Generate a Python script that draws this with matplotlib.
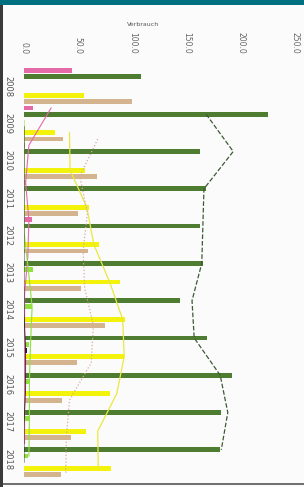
import matplotlib
matplotlib.use("Agg")
import matplotlib.pyplot as plt
import numpy as np
from matplotlib.patches import Rectangle
from matplotlib.lines import Line2D

years = ["2008", "2009", "2010", "2011", "2012", "2013", "2014", "2015", "2016", "2017", "2018"]
pink = [44, 8, 1, 2, 7, 0, 0, 0, 0, 0, 0]
green = [108, 225, 162, 168, 162, 165, 144, 169, 192, 182, 181]
lightgreen = [0, 0, 0, 0, 0, 8, 7, 5, 5, 5, 4]
black = [0, 0, 0, 0, 0, 0, 0, 3, 0, 0, 0]
yellow = [55, 29, 56, 60, 69, 89, 93, 92, 79, 57, 80]
tan = [100, 36, 67, 50, 59, 53, 75, 49, 35, 43, 34]

# two-year average lines (first year has no point)
pink_line = [None, 25, 4.5, 1.5, 4.5, 3.5, 0.5, 0.5, 0.5, 0.5, 0.5]
green_line = [None, 168, 193, 166, 165, 164, 155, 157, 181, 188, 182]
lightgreen_line = [None, 0, 0, 0, 0, 4, 7.5, 6, 5, 5, 4.5]
black_line = [None, 0, 0, 0, 0, 0, 0, 1.5, 1.5, 0, 0]
yellow_line = [None, 42, 42.5, 58, 64.5, 79, 91, 92.5, 85.5, 68, 68.5]
tan_line = [None, 68, 51.5, 58.5, 54.5, 56, 64, 62, 42, 39, 38.5]

ticks = [0, 50, 100, 150, 200, 250]
tick_labels = ["0.0", "50.0", "100.0", "150.0", "200.0", "250.0"]
axis_title = "Verbrauch"

W, H = 304, 487
fig = plt.figure(figsize=(W / 100, H / 100), dpi=100)
fig.patch.set_facecolor("#fbfbfb")
ax = fig.add_axes([24 / W, (H - 483) / H, 271 / W, (483 - 62) / H])
ax.set_facecolor("#fbfbfb")

series = [
    (pink, pink_line, "#e46aaa", "-", 0.8),
    (green, green_line, "#4e7d32", "--", 0.9),
    (lightgreen, lightgreen_line, "#8fe040", "-", 0.8),
    (black, black_line, "#222222", "-", 0.6),
    (yellow, yellow_line, "#f2f20a", "-", 0.9),
    (tan, tan_line, "#d4b48e", ":", 0.9),
]
line_colors = ["#e46aaa", "#3c5a34", "#8fe040", "#222222", "#e8e840", "#d9a9a0"]

n = len(series)
w = 1.0 / n
idx = np.arange(len(years))
for k, (vals, lvals, col, ls, lw) in enumerate(series):
    off = (k - (n - 1) / 2) * w
    ax.barh(idx + off, vals, height=w * 0.78, color=col, zorder=2)
for k, (vals, lvals, col, ls, lw) in enumerate(series):
    off = (k - (n - 1) / 2) * w
    ys = [i + off for i, v in enumerate(lvals) if v is not None]
    xs = [v for v in lvals if v is not None]
    ax.plot(xs, ys, color=line_colors[k], linestyle=ls, linewidth=lw, zorder=3)

ax.set_xlim(0, 250)
ax.set_ylim(10.64, -0.65)
ax.xaxis.tick_top()
ax.set_xticks(ticks)
ax.set_xticklabels(tick_labels, rotation=-90, fontsize=5.5, color="#666666")
ax.set_yticks(idx)
ax.set_yticklabels(years, rotation=-90, fontsize=6, color="#555555", va="center")
ax.tick_params(axis="both", length=0, pad=6)
ax.tick_params(axis="y", pad=8)
for s in ax.spines.values():
    s.set_visible(False)

fig.text(143 / W, 1 - 24 / H, axis_title, fontsize=4.5, color="#555555", ha="center", va="center")

# frame decorations
fig.patches.append(Rectangle((0, 1 - 5 / H), 1, 5 / H, transform=fig.transFigure,
                             facecolor="#006f80", edgecolor="none", zorder=5))
fig.patches.append(Rectangle((0, 0), 3 / W, 1 - 5 / H, transform=fig.transFigure,
                             facecolor="#3a3a3a", edgecolor="none", zorder=5))
fig.lines.append(Line2D([0, 1], [1 - 483.5 / H, 1 - 483.5 / H], transform=fig.transFigure,
                        color="#555555", linewidth=1.2, zorder=5))

fig.savefig("out.png", dpi=100)
